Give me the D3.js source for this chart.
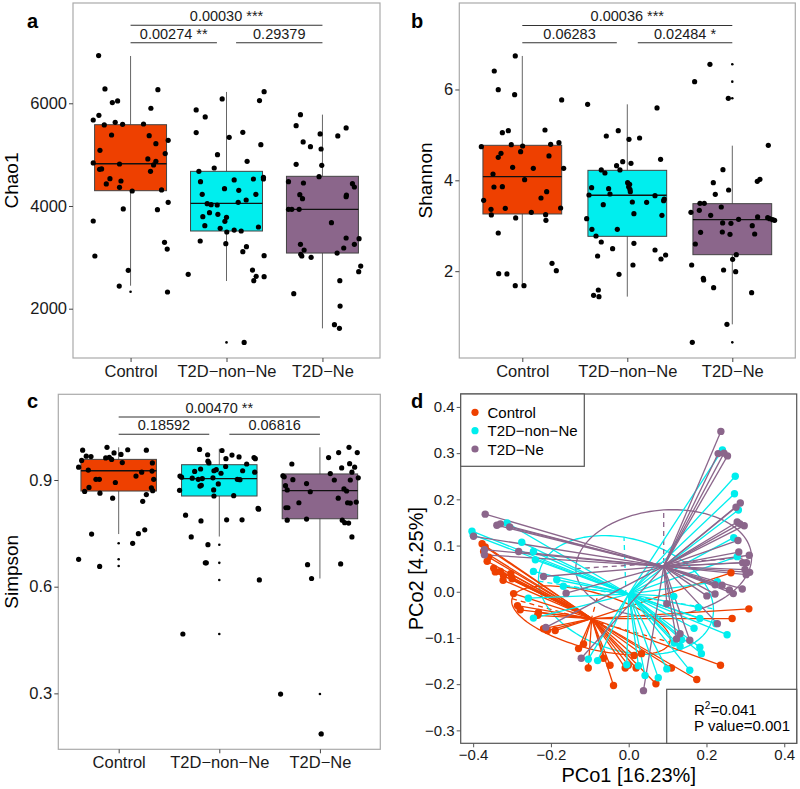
<!DOCTYPE html>
<html>
<head>
<meta charset="utf-8">
<script src="https://d3js.org/d3.v7.min.js"></script>
<style>
  body { margin: 0; background: #fff; font-family: "Liberation Sans", Arial, sans-serif; }
  .tick text { fill: #1a1a1a; }
</style>
</head>
<body>
<div id="chart"></div>
<script>
const groups = ["Control", "T2D-non-Ne", "T2D-Ne"];
const colors = ["#EE4000", "#00EEEE", "#8B668B"];

// ---- Chao1 ----
const chaoStats = [
  {lo: 2448, q1: 4298, med: 4824, q3: 5583, hi: 6921},
  {lo: 2539, q1: 3513, med: 4052, q3: 4675, hi: 6221},
  {lo: 1617, q1: 3084, med: 3935, q3: 4578, hi: 5779}
];
const chaoOutliers = [[2330], [1344], []];
const chaoPoints = [
  [[-0.333,6929],[-0.267,6279],[-0.19,6013],[-0.135,6046],[-0.389,5675],[-0.33,5766],[-0.274,5578],[-0.16,5630],[-0.083,5591],[-0.198,5383],[0.212,5903],[0.285,6266],[0.135,5597],[0.194,5370],[0.264,5214],[0.392,5279],[0.361,5020],[-0.319,5085],[-0.389,4838],[-0.323,4714],[-0.302,4721],[-0.115,4818],[0.18,4916],[0.264,4870],[0.24,4799],[0.208,4675],[-0.215,4532],[-0.253,4429],[-0.1,4487],[-0.115,4364],[0.017,4292],[0.323,4312],[-0.076,3942],[0.28,3929],[0.392,4071],[-0.389,3708],[-0.372,3026],[0.354,3292],[0.382,3162],[-0.024,2747],[-0.118,2441],[0.385,2325]],
  [[-0.045,6085],[0.344,6052],[0.392,6227],[-0.316,5870],[-0.222,5734],[-0.316,5429],[0.028,5338],[0.17,5435],[0.358,5195],[-0.094,5000],[0.215,4870],[-0.128,4740],[-0.288,4675],[-0.271,4474],[0.08,4507],[0.281,4526],[0.385,4558],[0.385,4526],[-0.021,4338],[0.128,4305],[-0.253,4227],[0.306,4227],[0.205,4117],[0.122,4071],[-0.201,4045],[-0.16,4026],[-0.097,4019],[-0.177,3870],[-0.09,3838],[-0.247,3792],[0,3779],[-0.017,3701],[-0.226,3617],[-0.066,3565],[0.003,3494],[0.08,3532],[0.153,3513],[0.333,3591],[-0.274,3318],[-0.007,3266],[0.208,3208],[0.17,3110],[0.392,3032],[-0.399,2669],[0.271,2753],[0.309,2630],[0.285,2545],[0.392,2623],[0.184,1344]],
  [[-0.229,5779],[-0.274,5565],[-0.024,5403],[0.247,5520],[0.16,5364],[-0.201,5247],[-0.125,5156],[-0.014,5110],[-0.274,4812],[-0.007,4792],[-0.035,4571],[-0.354,4474],[-0.198,4448],[0.313,4435],[0.333,4370],[-0.236,4221],[-0.208,4143],[0.25,4214],[0.247,4182],[-0.354,3935],[-0.319,3935],[-0.243,3935],[0.094,3675],[0.247,3377],[0.382,3364],[-0.229,3253],[0.222,3182],[0.333,3253],[-0.191,3143],[0.153,3084],[-0.226,3058],[-0.215,3026],[-0.118,3000],[0.399,2831],[0.378,2721],[-0.299,2292],[0.181,2545],[0.184,2052],[0.125,1688],[0.177,1617]]
];
const chaoSig = [
  {x1: 0, x2: 2, y: 7520, label: "0.00030 ***"},
  {x1: 0, x2: 0.9, y: 7180, label: "0.00274 **"},
  {x1: 1.1, x2: 2, y: 7180, label: "0.29379"}
];
const chaoTicks = [2000, 4000, 6000];

// ---- Shannon ----
const shannonStats = [
  {lo: 1.681, q1: 3.259, med: 4.081, q3: 4.771, hi: 6.738},
  {lo: 1.439, q1: 2.767, med: 3.670, q3: 4.220, hi: 5.673},
  {lo: 0.829, q1: 2.363, med: 3.134, q3: 3.486, hi: 4.763}
];
const shannonOutliers = [[], [], [6.554, 6.172, 5.806, 0.433]];
const shannonPoints = [
  [[-0.067,6.738],[-0.267,6.407],[-0.229,5.996],[-0.073,5.886],[0.375,5.769],[-0.133,5.094],[-0.19,5.05],[0.216,5.108],[-0.39,4.741],[-0.105,4.785],[0.003,4.756],[0.27,4.793],[0.349,4.829],[-0.016,4.631],[-0.203,4.594],[-0.229,4.506],[0.254,4.536],[-0.092,4.286],[0.105,4.264],[0.394,4.264],[-0.279,4.139],[0.022,4.015],[-0.27,3.853],[-0.19,3.861],[0.232,3.75],[-0.368,3.56],[0.178,3.611],[-0.298,3.361],[-0.162,3.383],[-0.295,3.237],[0.086,3.295],[0.365,3.391],[0.222,3.244],[0.225,3.119],[-0.063,3.171],[-0.229,2.84],[0.283,2.172],[0.324,2.011],[-0.225,1.945],[-0.146,1.938],[-0.067,1.681],[0.016,1.681]],
  [[-0.378,5.673],[0.283,5.593],[-0.2,4.976],[-0.086,5.094],[0.016,4.903],[0.117,4.932],[-0.102,4.323],[-0.044,4.411],[0.035,4.374],[-0.07,4.228],[0.317,4.462],[-0.248,4.228],[-0.213,4.161],[0.003,3.949],[0.022,3.912],[0.013,3.861],[0.025,3.802],[0.029,3.75],[-0.34,3.839],[-0.178,3.817],[-0.165,3.699],[-0.365,3.677],[0.264,3.662],[0.352,3.589],[0.346,3.552],[0.048,3.523],[0.184,3.516],[-0.229,3.464],[0.063,3.266],[0.33,3.229],[-0.387,3.156],[-0.095,2.921],[-0.337,2.921],[-0.298,2.774],[-0.248,2.642],[0.063,2.613],[-0.14,2.495],[0.264,2.466],[0.365,2.356],[0.321,2.268],[-0.283,2.334],[0.054,2.136],[-0.079,1.93],[-0.276,1.585],[-0.321,1.468],[-0.27,1.439]],
  [[-0.213,6.554],[-0.359,6.172],[-0.038,5.806],[0.343,4.771],[-0.089,4.235],[-0.181,3.949],[0.263,4.022],[0.238,3.978],[-0.035,3.787],[-0.162,3.692],[-0.308,3.494],[-0.267,3.494],[-0.394,3.295],[-0.314,3.339],[-0.105,3.413],[-0.206,3.229],[0.06,3.141],[0.241,3.193],[0.337,3.178],[0.356,3.156],[0.384,3.134],[0.403,3.119],[-0.092,3.061],[-0.013,3.053],[0.19,3.002],[-0.302,2.855],[-0.095,2.862],[-0.022,2.811],[0.213,2.818],[-0.352,2.598],[0.003,2.261],[0.038,2.363],[-0.387,2.136],[-0.083,2.026],[0.032,1.989],[-0.276,1.842],[-0.273,1.806],[-0.178,1.637],[0.184,1.527],[-0.051,0.829],[-0.381,0.433]]
];
const shannonSig = [
  {x1: 0, x2: 2, y: 7.41, label: "0.00036 ***"},
  {x1: 0, x2: 0.9, y: 7.03, label: "0.06283"},
  {x1: 1.1, x2: 2, y: 7.03, label: "0.02484 *"}
];
const shannonTicks = [2, 4, 6];

// ---- Simpson ----
const simpsonStats = [
  {lo: 0.748, q1: 0.869, med: 0.926, q3: 0.958, hi: 0.992},
  {lo: 0.741, q1: 0.855, med: 0.904, q3: 0.943, hi: 0.988},
  {lo: 0.623, q1: 0.791, med: 0.870, q3: 0.917, hi: 0.992}
];
const simpsonOutliers = [[0.722, 0.677, 0.658], [0.718, 0.667, 0.619, 0.467], [0.298, 0.186]];
const simpsonPoints = [
  [[-0.358,0.984],[-0.116,0.992],[0.09,0.985],[0.275,0.984],[-0.046,0.976],[0.023,0.972],[-0.322,0.967],[-0.275,0.966],[-0.129,0.962],[-0.093,0.964],[-0.07,0.958],[-0.368,0.955],[0.036,0.949],[-0.398,0.936],[-0.302,0.928],[0.335,0.948],[0.332,0.925],[0.229,0.922],[0.172,0.911],[-0.226,0.902],[-0.192,0.902],[-0.033,0.893],[0.348,0.902],[-0.295,0.879],[-0.338,0.868],[-0.186,0.863],[0.325,0.878],[0.338,0.87],[-0.06,0.849],[0.275,0.859],[0.239,0.84],[-0.269,0.748],[0.196,0.749],[0.259,0.76],[0.139,0.722],[-0.398,0.677],[-0.189,0.657]],
  [[-0.196,0.986],[0.027,0.983],[-0.116,0.971],[0.126,0.97],[0.196,0.965],[0.066,0.96],[0.345,0.963],[0.358,0.96],[-0.113,0.953],[-0.103,0.948],[0.272,0.945],[-0.186,0.931],[0.063,0.938],[0.352,0.922],[-0.245,0.924],[-0.053,0.926],[-0.03,0.929],[0.017,0.919],[0.232,0.926],[-0.391,0.911],[-0.375,0.908],[-0.269,0.905],[-0.209,0.902],[-0.169,0.904],[-0.063,0.906],[0.179,0.902],[0.205,0.901],[-0.179,0.885],[-0.192,0.883],[-0.01,0.889],[-0.056,0.872],[-0.395,0.871],[-0.053,0.855],[0.143,0.856],[0.385,0.82],[0.391,0.818],[-0.335,0.801],[-0.182,0.785],[0.073,0.788],[0.226,0.788],[-0.279,0.74],[-0.113,0.718],[-0.139,0.667],[-0.129,0.667],[0.398,0.619],[-0.362,0.467]],
  [[0.289,0.992],[0.186,0.977],[0.371,0.977],[0.086,0.963],[-0.279,0.945],[0.295,0.946],[0.216,0.934],[0.345,0.936],[0.103,0.918],[0.318,0.922],[-0.368,0.912],[-0.355,0.909],[0.381,0.906],[-0.269,0.901],[0.143,0.9],[0.302,0.9],[-0.133,0.89],[-0.342,0.884],[-0.325,0.872],[-0.096,0.867],[0.239,0.875],[0.265,0.869],[0.275,0.836],[0.182,0.849],[0.361,0.838],[-0.209,0.836],[-0.338,0.822],[-0.318,0.822],[0.302,0.835],[-0.133,0.79],[-0.325,0.787],[0.222,0.787],[0.246,0.78],[0.285,0.779],[0.318,0.74],[-0.123,0.662],[0.206,0.664],[-0.083,0.623],[-0.391,0.298],[0.013,0.186]]
];
const simpsonSig = [
  {x1: 0, x2: 2, y: 1.077, label: "0.00470 **"},
  {x1: 0, x2: 0.9, y: 1.0285, label: "0.18592"},
  {x1: 1.1, x2: 2, y: 1.0285, label: "0.06816"}
];
const simpsonTicks = [0.3, 0.6, 0.9];

// ---- PCoA ----
const pcoaControl = [[-0.377,0.104],[-0.369,0.097],[-0.373,0.087],[-0.36,0.075],[-0.364,0.066],[-0.343,0.043],[-0.322,0.035],[-0.323,0.025],[-0.303,0.039],[-0.3,0.028],[-0.296,-0.004],[-0.286,-0.03],[-0.232,-0.045],[-0.234,-0.051],[-0.219,-0.08],[-0.209,-0.084],[-0.189,-0.084],[-0.129,-0.123],[-0.116,-0.113],[-0.104,-0.165],[-0.065,-0.144],[-0.048,-0.159],[-0.039,-0.203],[-0.009,-0.165],[-0.001,-0.159],[0.014,-0.138],[0.019,-0.165],[0.033,-0.134],[0.07,-0.199],[0.11,-0.165],[0.175,-0.19],[0.236,-0.159],[0.266,-0.058],[0.309,-0.037],[0.263,0.041],[-0.347,0.051],[-0.33,0.044],[-0.279,-0.039]];
const pcoaNonNe = [[0.241,0.307],[0.274,0.25],[0.272,0.212],[0.282,0.177],[0.27,0.117],[0.279,0.076],[0.228,0.022],[0.179,-0.034],[0.253,-0.093],[0.224,-0.069],[0.183,-0.058],[0.168,-0.079],[0.183,-0.12],[0.187,-0.134],[0.157,-0.17],[0.098,-0.167],[0.076,-0.186],[0.042,-0.181],[-0.403,0.131],[-0.4,0.123],[-0.313,0.149],[-0.275,0.107],[-0.245,0.087],[-0.24,0.069],[-0.245,0.044],[-0.258,-0.014],[-0.245,-0.057],[-0.104,-0.146],[-0.08,-0.149],[-0.005,-0.158],[0.117,-0.111],[0.132,-0.118],[0.116,-0.01],[-0.185,0.026],[-0.168,0.012],[0.025,-0.16],[0.136,-0.104]];
const pcoaNe = [[0.237,0.347],[0.23,0.299],[0.245,0.3],[0.254,0.294],[0.276,0.183],[0.287,0.192],[0.279,0.151],[0.286,0.147],[0.297,0.143],[0.281,0.111],[0.283,0.086],[0.31,0.079],[0.293,0.063],[0.303,0.063],[0.311,0.042],[0.299,0.048],[0.302,0.037],[0.292,0.006],[0.259,0.004],[0.269,-0.004],[0.222,0.015],[0.24,0.014],[0.201,-0.009],[0.222,-0.005],[0.228,-0.069],[0.157,-0.105],[0.123,-0.102],[0.132,-0.091],[0.038,-0.214],[0.098,-0.026],[-0.369,0.168],[-0.339,0.144],[-0.33,0.147],[-0.306,0.14],[-0.399,0.12],[-0.371,0.08],[-0.371,0.091],[-0.283,0.087],[-0.161,-0.003],[-0.219,0.033],[-0.213,-0.077],[-0.122,-0.144]];
const pcoaCentroids = [[-0.095, -0.058], [0.0, -0.005], [0.09, 0.055]];
// ellipse: centre, major semi-axis vector, minor semi-axis vector
const pcoaEllipses = [
  {c: [-0.097, -0.062], u: [0.203, -0.047], v: [0.019, 0.058]},
  {c: [-0.007, -0.007], u: [0.225, -0.03], v: [-0.005, 0.125]},
  {c: [0.09, 0.062], u: [0.226, 0.012], v: [0.0, 0.115]}
];
const pcoaXTicks = [-0.4, -0.2, 0.0, 0.2, 0.4];
const pcoaYTicks = [-0.3, -0.2, -0.1, 0.0, 0.1, 0.2, 0.3, 0.4];

const svg = d3.select("#chart").append("svg")
  .attr("width", 800).attr("height", 789);

function boxPanel(o) {
  const g = svg.append("g");
  const x = d3.scalePoint().domain(groups).range([o.left, o.right]).padding(0.6);
  const step = x.step();
  const y = d3.scaleLinear().domain(o.domain).range([o.bottom, o.top]);
  const bw = step * 0.75;

  // whiskers, boxes, medians, outliers
  groups.forEach((grp, i) => {
    const s = o.stats[i];
    g.append("line").attr("x1", x(grp)).attr("x2", x(grp))
      .attr("y1", y(s.lo)).attr("y2", y(s.hi))
      .attr("stroke", "#666").attr("stroke-width", 1);
    g.append("rect").attr("x", x(grp) - bw / 2).attr("width", bw)
      .attr("y", y(s.q3)).attr("height", y(s.q1) - y(s.q3))
      .attr("fill", colors[i]).attr("stroke", "#444").attr("stroke-width", 1);
    g.append("line").attr("x1", x(grp) - bw / 2).attr("x2", x(grp) + bw / 2)
      .attr("y1", y(s.med)).attr("y2", y(s.med))
      .attr("stroke", "#111").attr("stroke-width", 1.4);
    o.outliers[i].forEach(v => {
      g.append("circle").attr("cx", x(grp)).attr("cy", y(v)).attr("r", 1.3).attr("fill", "#000");
    });
  });

  // jittered points
  groups.forEach((grp, i) => {
    g.selectAll(null).data(o.points[i]).join("circle")
      .attr("cx", d => x(grp) + d[0] * step)
      .attr("cy", d => y(d[1]))
      .attr("r", 2.6).attr("fill", "#000");
  });

  // frame
  g.append("rect").attr("x", o.left).attr("y", o.top)
    .attr("width", o.right - o.left).attr("height", o.bottom - o.top)
    .attr("fill", "none").attr("stroke", "#aaa").attr("stroke-width", 1.2);

  const yAxis = g.append("g").attr("transform", `translate(${o.left},0)`)
    .call(d3.axisLeft(y).tickValues(o.ticks).tickFormat(o.fmt).tickSize(4).tickPadding(2));
  yAxis.select(".domain").remove();
  yAxis.selectAll(".tick line").attr("stroke", "#444");
  yAxis.selectAll(".tick text").style("font-size", "16.5px").style("font-family", "Liberation Sans, Arial, sans-serif");

  const xAxis = g.append("g").attr("transform", `translate(0,${o.bottom})`)
    .call(d3.axisBottom(x).tickSize(4).tickPadding(3));
  xAxis.select(".domain").remove();
  xAxis.selectAll(".tick line").attr("stroke", "#444");
  xAxis.selectAll(".tick text").style("font-size", "16.5px").style("font-family", "Liberation Sans, Arial, sans-serif")
    .text(d => d.replace(/-/g, "\u2212"));

  // significance brackets
  const xi = d3.scaleLinear().domain([0, 2]).range([x(groups[0]), x(groups[2])]);
  o.sig.forEach(s => {
    g.append("line").attr("x1", xi(s.x1)).attr("x2", xi(s.x2))
      .attr("y1", y(s.y)).attr("y2", y(s.y))
      .attr("stroke", "#333").attr("stroke-width", 1.1);
    g.append("text").attr("x", (xi(s.x1) + xi(s.x2)) / 2).attr("y", y(s.y) - 4)
      .attr("text-anchor", "middle").style("font-size", "14.5px").attr("fill", "#1a1a1a")
      .text(s.label);
  });

  // axis title
  g.append("text")
    .attr("transform", `translate(${o.titleX},${(o.top + o.bottom) / 2}) rotate(-90)`)
    .attr("text-anchor", "middle").attr("dominant-baseline", "central")
    .style("font-size", "19px").text(o.title);

  // panel letter
  g.append("text").attr("x", o.labelX).attr("y", o.labelY)
    .style("font-size", "20px").style("font-weight", "bold").text(o.label);
}

boxPanel({left: 73, right: 380, top: 3, bottom: 358, domain: [1040, 7953],
  ticks: chaoTicks, fmt: d3.format("d"), stats: chaoStats, outliers: chaoOutliers,
  points: chaoPoints, sig: chaoSig, title: "Chao1", titleX: 11, label: "a", labelX: 27, labelY: 28});

boxPanel({left: 459.3, right: 795.3, top: 3, bottom: 358, domain: [0.088, 7.904],
  ticks: shannonTicks, fmt: d3.format("d"), stats: shannonStats, outliers: shannonOutliers,
  points: shannonPoints, sig: shannonSig, title: "Shannon", titleX: 425, label: "b", labelX: 411, labelY: 28});

boxPanel({left: 58.3, right: 380.3, top: 394.3, bottom: 749.3, domain: [0.1427, 1.141],
  ticks: simpsonTicks, fmt: d3.format(".1f"), stats: simpsonStats, outliers: simpsonOutliers,
  points: simpsonPoints, sig: simpsonSig, title: "Simpson", titleX: 11, label: "c", labelX: 27, labelY: 408});

// ---- panel d ----
(function () {
  const left = 460.7, right = 796.7, top = 394, bottom = 743.3;
  const g = svg.append("g");
  const x = d3.scaleLinear().domain([-0.432, 0.432]).range([left, right]);
  const y = d3.scaleLinear().domain([-0.328, 0.428]).range([bottom, top]);
  const sets = [pcoaControl, pcoaNonNe, pcoaNe];

  const clip = svg.append("defs").append("clipPath").attr("id", "pclip");
  clip.append("rect").attr("x", left).attr("y", top).attr("width", right - left).attr("height", bottom - top);
  const inner = g.append("g").attr("clip-path", "url(#pclip)");

  // ellipses
  const line = d3.line().curve(d3.curveLinearClosed);
  pcoaEllipses.forEach((e, i) => {
    const pts = d3.range(0, 120).map(k => {
      const t = k / 120 * 2 * Math.PI;
      return [x(e.c[0] + e.u[0] * Math.cos(t) + e.v[0] * Math.sin(t)),
              y(e.c[1] + e.u[1] * Math.cos(t) + e.v[1] * Math.sin(t))];
    });
    inner.append("path").attr("d", line(pts)).attr("fill", "none")
      .attr("stroke", colors[i]).attr("stroke-width", 1.3);
    inner.append("line")
      .attr("x1", x(e.c[0] - e.u[0])).attr("y1", y(e.c[1] - e.u[1]))
      .attr("x2", x(e.c[0] + e.u[0])).attr("y2", y(e.c[1] + e.u[1]))
      .attr("stroke", colors[i]).attr("stroke-width", 1.3).attr("stroke-dasharray", "5,4");
    inner.append("line")
      .attr("x1", x(e.c[0])).attr("y1", y(e.c[1]))
      .attr("x2", x(e.c[0] + e.v[0])).attr("y2", y(e.c[1] + e.v[1]))
      .attr("stroke", colors[i]).attr("stroke-width", 1.3).attr("stroke-dasharray", "5,4");
  });

  // spiders
  sets.forEach((set, i) => {
    const c = pcoaCentroids[i];
    inner.selectAll(null).data(set).join("line")
      .attr("x1", x(c[0])).attr("y1", y(c[1]))
      .attr("x2", d => x(d[0])).attr("y2", d => y(d[1]))
      .attr("stroke", colors[i]).attr("stroke-width", 1.3);
  });
  sets.forEach((set, i) => {
    inner.selectAll(null).data(set).join("circle")
      .attr("cx", d => x(d[0])).attr("cy", d => y(d[1]))
      .attr("r", 3.7).attr("fill", colors[i]);
  });

  g.append("rect").attr("x", left).attr("y", top)
    .attr("width", right - left).attr("height", bottom - top)
    .attr("fill", "none").attr("stroke", "#555").attr("stroke-width", 1.2);

  const fmt = v => d3.format(".1f")(v);
  const ya = g.append("g").attr("transform", `translate(${left},0)`)
    .call(d3.axisLeft(y).tickValues(pcoaYTicks).tickFormat(fmt).tickSize(4).tickPadding(2));
  ya.select(".domain").remove();
  ya.selectAll(".tick line").attr("stroke", "#555");
  ya.selectAll(".tick text").style("font-size", "15px").style("font-family", "Liberation Sans, Arial, sans-serif");

  const xa = g.append("g").attr("transform", `translate(0,${bottom})`)
    .call(d3.axisBottom(x).tickValues(pcoaXTicks).tickFormat(fmt).tickSize(4).tickPadding(2));
  xa.select(".domain").remove();
  xa.selectAll(".tick line").attr("stroke", "#555");
  xa.selectAll(".tick text").style("font-size", "15px").style("font-family", "Liberation Sans, Arial, sans-serif");

  g.append("text").attr("x", (left + right) / 2).attr("y", 782)
    .attr("text-anchor", "middle").style("font-size", "20px").text("PCo1 [16.23%]");
  g.append("text")
    .attr("transform", `translate(416,${(top + bottom) / 2}) rotate(-90)`)
    .attr("text-anchor", "middle").attr("dominant-baseline", "central")
    .style("font-size", "20px").text("PCo2 [4.25%]");

  // legend
  g.append("rect").attr("x", left).attr("y", top).attr("width", 123.6).attr("height", 72.3)
    .attr("fill", "#fff").attr("stroke", "#555").attr("stroke-width", 1.2);
  groups.forEach((grp, i) => {
    const ly = 412.3 + i * 18.35;
    g.append("circle").attr("cx", 475).attr("cy", ly).attr("r", 3.6).attr("fill", colors[i]);
    g.append("text").attr("x", 487.5).attr("y", ly).attr("dominant-baseline", "central")
      .style("font-size", "15px").text(grp.replace(/-/g, "\u2212"));
  });

  // stats box
  g.append("rect").attr("x", 666.7).attr("y", 689.3).attr("width", right - 666.7).attr("height", bottom - 689.3)
    .attr("fill", "#fff").attr("stroke", "#555").attr("stroke-width", 1.2);
  const r2 = g.append("text").attr("x", 694).attr("y", 714.5).style("font-size", "15px");
  r2.append("tspan").text("R");
  r2.append("tspan").attr("dy", -6).style("font-size", "10px").text("2");
  r2.append("tspan").attr("dy", 6).text("=0.041");
  g.append("text").attr("x", 694).attr("y", 731).style("font-size", "15px").text("P value=0.001");

  g.append("text").attr("x", 411).attr("y", 408)
    .style("font-size", "20px").style("font-weight", "bold").text("d");
})();
</script>
</body>
</html>
